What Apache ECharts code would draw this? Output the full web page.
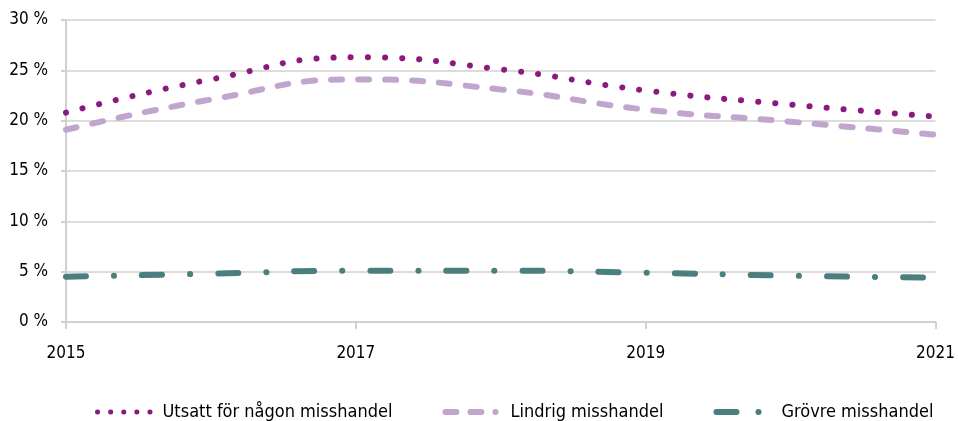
<!DOCTYPE html>
<html>
<head>
<meta charset="utf-8">
<script src="https://cdn.jsdelivr.net/npm/echarts@6/dist/echarts.min.js"></script>
<style>
  html, body { margin: 0; padding: 0; background: #fff; }
  #main { width: 958px; height: 421px; }
</style>
</head>
<body>
<div id="main"></div>
<script>
// år och andelar (%)
var years = ['2015', '2016', '2017', '2018', '2019', '2020', '2021']
var utsatt = [20.8, 24.1, 26.3, 25.1, 23.0, 21.6, 20.4]
var lindrig = [19.1, 22.1, 24.1, 23.1, 21.1, 19.9, 18.6]
var grovre = [4.5, 4.8, 5.1, 5.1, 4.9, 4.6, 4.4]

var font = '"Liberation Sans Narrow", "DejaVu Sans Condensed", Lato, sans-serif'

var chart = echarts.init(document.getElementById('main'))
chart.setOption({
    animation: false,
    textStyle: { fontFamily: font },
    grid: { left: 66, right: 21, top: 20, bottom: 99 },
    legend: {
        top: 398,
        left: 90,
        itemWidth: 60,
        itemHeight: 10,
        itemGap: 50,
        itemStyle: { opacity: 0 },
        textStyle: { fontFamily: font, fontSize: 18, color: '#000' },
        data: [
            { name: 'Utsatt för någon misshandel', lineStyle: { width: 5, type: [0.1, 13], cap: 'round' } },
            { name: 'Lindrig misshandel', lineStyle: { width: 6, type: [11, 14, 11, 14, 0.1, 20], cap: 'round' } },
            { name: 'Grövre misshandel', lineStyle: { width: 6, type: [20, 22, 0.1, 30], cap: 'round' } }
        ]
    },
    xAxis: {
        type: 'category',
        boundaryGap: false,
        data: years,
        axisLine: { lineStyle: { color: '#d0d0d0', width: 2 } },
        axisTick: { interval: 1, length: 7, lineStyle: { color: '#d0d0d0', width: 2 } },
        axisLabel: { interval: 1, margin: 23, fontSize: 17, color: '#000', fontFamily: font }
    },
    yAxis: {
        type: 'value',
        min: 0,
        max: 30,
        interval: 5,
        axisLine: { show: true, lineStyle: { color: '#d0d0d0', width: 2 } },
        axisTick: { show: true, length: 5, lineStyle: { color: '#d0d0d0', width: 2 } },
        splitLine: { lineStyle: { color: '#dcdcdc', width: 2 } },
        axisLabel: { margin: 18, fontSize: 17, color: '#000', fontFamily: font, formatter: '{value} %' }
    },
    series: [
        {
            name: 'Utsatt för någon misshandel',
            type: 'line',
            smooth: 0.5,
            symbol: 'none',
            data: utsatt,
            itemStyle: { color: '#8c1a7e' },
            lineStyle: { color: '#8c1a7e', width: 6, type: [0.1, 17], cap: 'round' }
        },
        {
            name: 'Lindrig misshandel',
            type: 'line',
            smooth: 0.5,
            symbol: 'none',
            data: lindrig,
            itemStyle: { color: '#c0a6cd' },
            lineStyle: { color: '#c0a6cd', width: 6, type: [11, 16], cap: 'round' }
        },
        {
            name: 'Grövre misshandel',
            type: 'line',
            smooth: 0.5,
            symbol: 'none',
            data: grovre,
            itemStyle: { color: '#4a7f7e' },
            lineStyle: { color: '#4a7f7e', width: 6, type: [20, 28, 0.1, 28], cap: 'round' }
        }
    ]
})
</script>
</body>
</html>
